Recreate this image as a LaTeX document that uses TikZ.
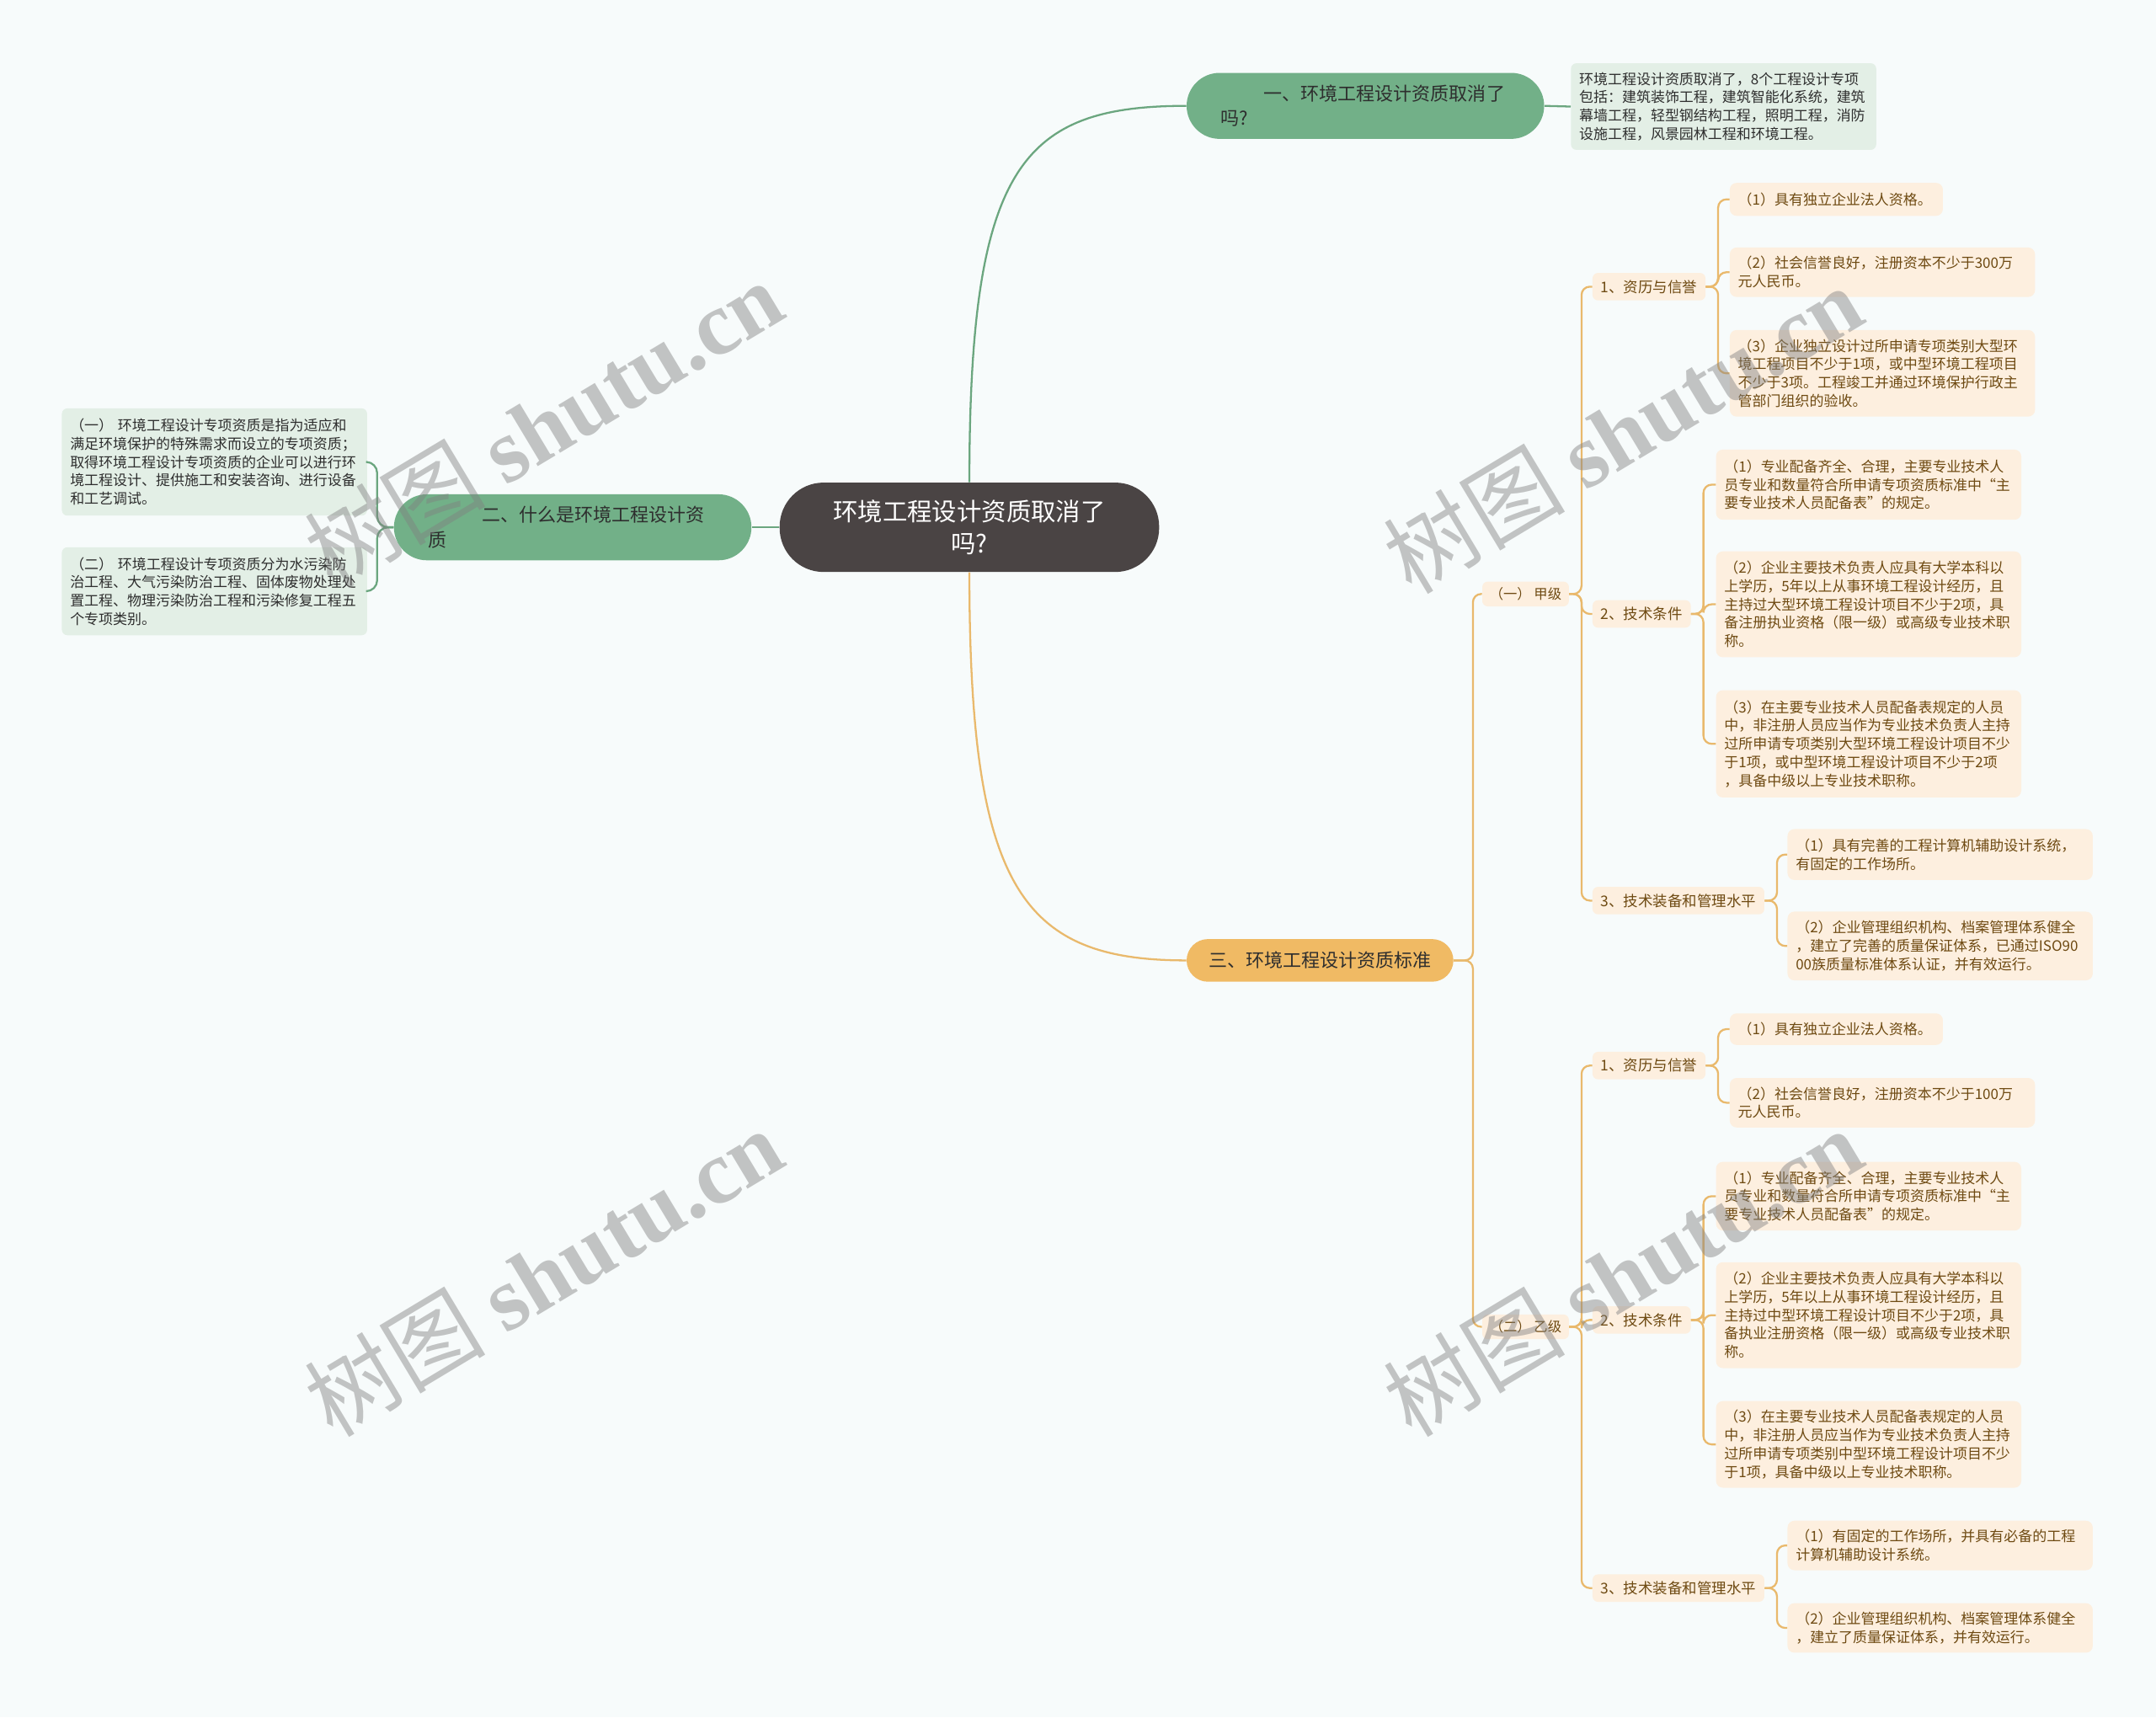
\documentclass[tikz,border=0pt]{standalone}
\usepackage{fontspec}
\setmainfont{Noto Sans CJK SC}
\newfontfamily\wmfont{Liberation Serif}
\usepackage{xcolor}
\definecolor{bgcol}{HTML}{F7FBFB}
\definecolor{rootfill}{HTML}{4A4444}
\definecolor{greenfill}{HTML}{72B088}
\definecolor{greenline}{HTML}{6BA67F}
\definecolor{greenleaf}{HTML}{E3EFE6}
\definecolor{orangefill}{HTML}{F0BA64}
\definecolor{orangeline}{HTML}{E9B96C}
\definecolor{orangeleaf}{HTML}{FDEFDF}
\definecolor{browntext}{HTML}{6E4A12}
\definecolor{darktext}{HTML}{2E2E2E}

\begin{document}
\begin{tikzpicture}[x=1pt, y=-1pt,
    root/.style={fill=rootfill, text=white, rounded corners=32, minimum width=276,
      minimum height=65, inner sep=0, align=center, font=\fontsize{18}{23}\selectfont},
    greenbr/.style={fill=greenfill, text=darktext, rounded corners=24, minimum height=48,
      text width=210, inner xsep=25, inner ysep=0, align=left, font=\fontsize{13.5}{18}\selectfont},
    orangebr/.style={fill=orangefill, text=darktext, rounded corners=15.5, minimum width=194,
      minimum height=31, inner sep=0, font=\fontsize{13.5}{18}\selectfont},
    gleaf/.style={fill=greenleaf, text=darktext, rounded corners=4, text width=210,
      inner xsep=6, inner ysep=0, align=left, font=\fontsize{10.4}{13.3}\selectfont},
    oleaf/.style={fill=orangeleaf, text=browntext, rounded corners=5, text width=210,
      inner xsep=6, inner ysep=0, align=left, font=\fontsize{10.4}{13.3}\selectfont},
    grade/.style={fill=orangeleaf, text=browntext, rounded corners=4, minimum width=63,
      minimum height=18, inner sep=0, font=\fontsize{10}{12}\selectfont},
    sub/.style={fill=orangeleaf, text=browntext, rounded corners=4, anchor=west,
      minimum height=20, inner xsep=6, inner ysep=0, font=\fontsize{10.7}{13}\selectfont},
    glink/.style={draw=greenline, line width=1.4},
    olink/.style={draw=orangeline, line width=1.4, rounded corners=6},
    wm/.style={text=gray, opacity=0.45, rotate=31, font=\fontsize{66}{70}\selectfont},
  ]
    \useasboundingbox (0,0) rectangle (1568,1249);
    \fill[bgcol] (0,0) rectangle (1568,1249);

    % Central topic
    \node[root] (root) at (705,383.5) {环境工程设计资质取消了\\吗?};

    % Branch one
    \node[greenbr] (b1) at (993,77) {\hspace*{2.3em}一、环境工程设计资质取消了\\吗?};
    \node[gleaf, minimum height=63] (l1) at (1253.5,77.5) {环境工程设计资质取消了，8个工程设计专项\\包括：建筑装饰工程，建筑智能化系统，建筑\\幕墙工程，轻型钢结构工程，照明工程，消防\\设施工程，风景园林工程和环境工程。};

    % Branch two
    \node[greenbr] (b2) at (416.5,383.5) {\hspace*{2.9em}二、什么是环境工程设计资\\质};
    \node[gleaf, minimum height=78] (l2a) at (156,336) {（一） 环境工程设计专项资质是指为适应和\\满足环境保护的特殊需求而设立的专项资质；\\取得环境工程设计专项资质的企业可以进行环\\境工程设计、提供施工和安装咨询、进行设备\\和工艺调试。};
    \node[gleaf, minimum height=64] (l2b) at (156,430) {（二） 环境工程设计专项资质分为水污染防\\治工程、大气污染防治工程、固体废物处理处\\置工程、物理污染防治工程和污染修复工程五\\个专项类别。};

    % Branch three
    \node[orangebr] (b3) at (960,698.5) {三、环境工程设计资质标准};
    \node[grade] (ga) at (1109.5,432) {（一） 甲级};
    \node[grade] (gb) at (1109.5,965) {（二） 乙级};

    % Grade A
    \node[sub] (sa1) at (1158,208.5) {1、资历与信誉};
    \node[sub] (sa2) at (1158,446.5) {2、技术条件};
    \node[sub] (sa3) at (1158,655) {3、技术装备和管理水平};
    \node[oleaf, text width=143, minimum height=24] (a11) at (1335.5,145) {（1）具有独立企业法人资格。};
    \node[oleaf, minimum height=36] (a12) at (1369,198) {（2）社会信誉良好，注册资本不少于300万\\元人民币。};
    \node[oleaf, minimum height=63] (a13) at (1369,271.5) {（3）企业独立设计过所申请专项类别大型环\\境工程项目不少于1项，或中型环境工程项目\\不少于3项。工程竣工并通过环境保护行政主\\管部门组织的验收。};
    \node[oleaf, minimum height=51] (a21) at (1359,352.5) {（1）专业配备齐全、合理，主要专业技术人\\员专业和数量符合所申请专项资质标准中“主\\要专业技术人员配备表”的规定。};
    \node[oleaf, minimum height=77] (a22) at (1359,439.5) {（2）企业主要技术负责人应具有大学本科以\\上学历，5年以上从事环境工程设计经历，且\\主持过大型环境工程设计项目不少于2项，具\\备注册执业资格（限一级）或高级专业技术职\\称。};
    \node[oleaf, minimum height=78] (a23) at (1359,541) {（3）在主要专业技术人员配备表规定的人员\\中，非注册人员应当作为专业技术负责人主持\\过所申请专项类别大型环境工程设计项目不少\\于1项，或中型环境工程设计项目不少于2项\\，具备中级以上专业技术职称。};
    \node[oleaf, minimum height=37] (a31) at (1411,621.5) {（1）具有完善的工程计算机辅助设计系统，\\有固定的工作场所。};
    \node[oleaf, minimum height=50] (a32) at (1411,688) {（2）企业管理组织机构、档案管理体系健全\\，建立了完善的质量保证体系，已通过ISO90\\00族质量标准体系认证，并有效运行。};

    % Grade B
    \node[sub] (sb1) at (1158,775) {1、资历与信誉};
    \node[sub] (sb2) at (1158,960) {2、技术条件};
    \node[sub] (sb3) at (1158,1155) {3、技术装备和管理水平};
    \node[oleaf, text width=143, minimum height=23] (b11) at (1335.5,748.5) {（1）具有独立企业法人资格。};
    \node[oleaf, minimum height=36] (b12) at (1369,802) {（2）社会信誉良好，注册资本不少于100万\\元人民币。};
    \node[oleaf, minimum height=50] (b21) at (1359,870) {（1）专业配备齐全、合理，主要专业技术人\\员专业和数量符合所申请专项资质标准中“主\\要专业技术人员配备表”的规定。};
    \node[oleaf, minimum height=77] (b22) at (1359,956.5) {（2）企业主要技术负责人应具有大学本科以\\上学历，5年以上从事环境工程设计经历，且\\主持过中型环境工程设计项目不少于2项，具\\备执业注册资格（限一级）或高级专业技术职\\称。};
    \node[oleaf, minimum height=63] (b23) at (1359,1050.5) {（3）在主要专业技术人员配备表规定的人员\\中，非注册人员应当作为专业技术负责人主持\\过所申请专项类别中型环境工程设计项目不少\\于1项，具备中级以上专业技术职称。};
    \node[oleaf, minimum height=36] (b31) at (1411,1124) {（1）有固定的工作场所，并具有必备的工程\\计算机辅助设计系统。};
    \node[oleaf, minimum height=36] (b32) at (1411,1184) {（2）企业管理组织机构、档案管理体系健全\\，建立了质量保证体系，并有效运行。};

    % Connectors
    \draw[glink] (root.north) .. controls +(0,-230) and +(-120,0) .. (b1.west);
    \draw[olink] (root.south) .. controls +(0,230) and +(-120,0) .. (b3.west);
    \draw[glink] (root.west) -- (b2.east);
    \draw[glink] (b1.east) -- (l1.west);
    \draw[glink, rounded corners=8] (b2.west) -- ++(-12,0) |- (l2a.east);
    \draw[glink, rounded corners=8] (b2.west) -- ++(-12,0) |- (l2b.east);
    \draw[olink] (b3.east) -- ++(14,0) |- (ga.west);
    \draw[olink] (b3.east) -- ++(14,0) |- (gb.west);
    \foreach \g/\s in {ga/sa1, ga/sa2, ga/sa3, gb/sb1, gb/sb2, gb/sb3}
      \draw[olink] (\g.east) -- ++(9,0) |- (\s.west);
    \foreach \s/\l in {sa1/a11, sa1/a12, sa1/a13, sa2/a21, sa2/a22, sa2/a23, sa3/a31, sa3/a32,
        sb1/b11, sb1/b12, sb2/b21, sb2/b22, sb2/b23, sb3/b31, sb3/b32}
      \draw[olink] (\s.east) -- ++(9,0) |- (\l.west);

    % Watermarks
    \foreach \wx/\wy [count=\i] in {395/308, 395/925, 1180/312, 1180/925}
      \node[wm] (wm\i) at (\wx,\wy) {树图 {\wmfont\bfseries shutu.cn}};
\end{tikzpicture}
\end{document}
